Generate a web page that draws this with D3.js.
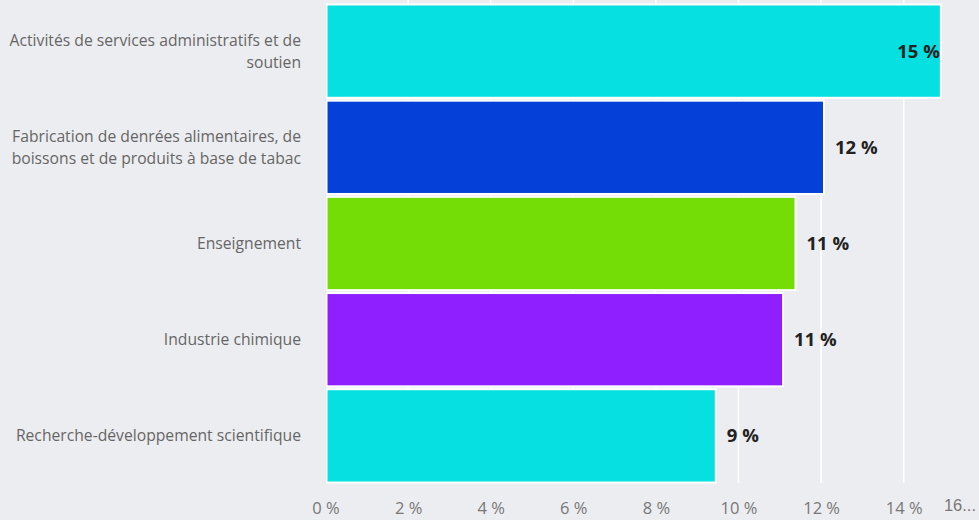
<!DOCTYPE html>
<html>
<head>
<meta charset="utf-8">
<script src="https://cdn.jsdelivr.net/npm/d3@7"></script>
<style>
  body { margin: 0; background: #ecedf0; }
  svg { display: block; font-family: "Open Sans", sans-serif; }
</style>
</head>
<body>
<svg id="chart" width="979" height="520"></svg>
<script>
const categories = [
    ["Activités de services administratifs et de", "soutien"],
    ["Fabrication de denrées alimentaires, de", "boissons et de produits à base de tabac"],
    ["Enseignement"],
    ["Industrie chimique"],
    ["Recherche-développement scientifique"]
]
const values = [14.9, 12.07, 11.38, 11.08, 9.45]
const valueLabels = ["15 %", "12 %", "11 %", "11 %", "9 %"]
const colors = ["#06e0e0", "#0540d9", "#74dd06", "#8f1fff", "#06e0e0"]
const tickValues = [0, 2, 4, 6, 8, 10, 12, 14]

const svg = d3.select('#chart')
const width = 979, height = 520
const margin = {left: 325.5, top: 4, bottom: 483}

svg.append('rect').attr('width', width).attr('height', height).attr('fill', '#ecedf0')

const x = d3.scaleLinear().domain([0, 16]).range([margin.left, margin.left + 16 * 41.3])
const y = d3.scaleBand()
    .domain(d3.range(categories.length))
    .range([margin.top, margin.bottom])
    .paddingInner(0.03)
    .paddingOuter(0.005)

// grid lines
svg.append('g')
    .selectAll('line')
    .data(tickValues.slice(1))
    .enter()
    .append('line')
    .attr('x1', d => x(d)).attr('x2', d => x(d))
    .attr('y1', 0).attr('y2', margin.bottom)
    .attr('stroke', '#ffffff')
    .attr('stroke-width', 1.5)

// axis line
svg.append('line')
    .attr('x1', x(0)).attr('x2', x(0))
    .attr('y1', margin.top).attr('y2', margin.bottom)
    .attr('stroke', '#d6d6ec')
    .attr('stroke-width', 1)

// bars
svg.append('g')
    .selectAll('rect')
    .data(values)
    .enter()
    .append('rect')
    .attr('x', x(0) + 1)
    .attr('y', (d, i) => y(i))
    .attr('width', d => x(d) - x(0) - 1)
    .attr('height', y.bandwidth())
    .attr('fill', (d, i) => colors[i])
    .attr('stroke', '#ffffff')
    .attr('stroke-width', 2)

// value labels
svg.append('g')
    .selectAll('text')
    .data(values)
    .enter()
    .append('text')
    .attr('x', (d, i) => i === 0 ? x(d) - 1 : x(d) + 11)
    .attr('y', (d, i) => y(i) + y.bandwidth() / 2)
    .attr('dy', '0.35em')
    .attr('text-anchor', (d, i) => i === 0 ? 'end' : 'start')
    .style('font-size', '18.5px')
    .style('font-weight', 'bold')
    .attr('fill', '#222222')
    .text((d, i) => valueLabels[i])

// category labels
const catLabels = svg.append('g')
    .selectAll('text')
    .data(categories)
    .enter()
    .append('text')
    .attr('x', 301)
    .attr('y', (d, i) => y(i) + y.bandwidth() / 2)
    .attr('text-anchor', 'end')
    .style('font-size', '15.7px')
    .attr('fill', '#666666')

catLabels.selectAll('tspan')
    .data(d => d.map((t, j) => ({t, j, n: d.length})))
    .enter()
    .append('tspan')
    .attr('x', 301)
    .attr('dy', d => d.j === 0 ? ((0.35 - (d.n - 1) * 0.7) + 'em') : '1.4em')
    .text(d => d.t)

// x axis
const xAxis = d3.axisBottom(x)
    .tickValues(tickValues)
    .tickSize(0)
    .tickFormat(d => d + ' %')

const axisG = svg.append('g')
    .attr('transform', `translate(0,${margin.bottom + 14})`)
    .call(xAxis)
axisG.select('.domain').remove()
axisG.selectAll('text')
    .style('font-size', '16.5px')
    .style('font-family', '"Open Sans", sans-serif')
    .attr('fill', '#777777')
    .attr('dy', '0.85em')

// truncated last tick label
axisG.append('text')
    .attr('x', 976)
    .attr('y', 0)
    .attr('dy', '0.85em')
    .attr('text-anchor', 'end')
    .style('font-size', '16.5px')
    .attr('fill', '#777777')
    .text('16...')
</script>
</body>
</html>
